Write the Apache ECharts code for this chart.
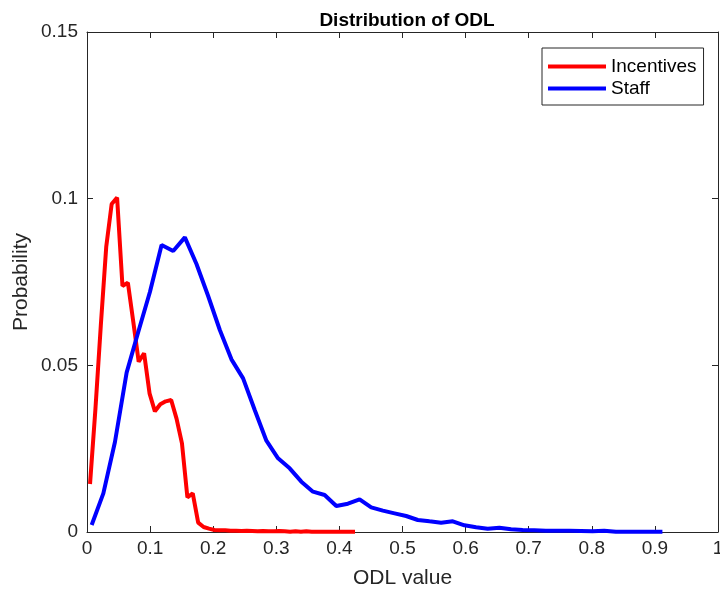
<!DOCTYPE html>
<html>
<head>
<meta charset="utf-8">
<title>Distribution of ODL</title>
<script src="https://cdn.jsdelivr.net/npm/echarts@6/dist/echarts.min.js"></script>
<style>
  html, body { margin: 0; padding: 0; background: #fff; }
  #chart { width: 720px; height: 590px; }
</style>
</head>
<body>
<div id="chart"></div>
<script>
// ---------------------------------------------------------------------------
// Data
// ---------------------------------------------------------------------------
const xTicks = [0, 0.1, 0.2, 0.3, 0.4, 0.5, 0.6, 0.7, 0.8, 0.9, 1];
const yTicks = [0, 0.05, 0.1, 0.15];

const incentivesX = [
  0.0048, 0.0134, 0.0219, 0.0305, 0.0391, 0.0477, 0.0562, 0.0648, 0.0734, 0.0819,
  0.0905, 0.0991, 0.1076, 0.1162, 0.1248, 0.1334, 0.1419, 0.1505, 0.1591, 0.1676,
  0.1762, 0.1848, 0.1933, 0.2019, 0.2105, 0.2191, 0.2276, 0.2362, 0.2448, 0.2533,
  0.2619, 0.2705, 0.2790, 0.2876, 0.2962, 0.3048, 0.3133, 0.3219, 0.3305, 0.3390,
  0.3476, 0.3562, 0.3647, 0.3733, 0.3819, 0.3905, 0.3990, 0.4076, 0.4162, 0.4247
];
const incentivesY = [
  0.0144, 0.0370, 0.0620, 0.0856, 0.0984, 0.1003, 0.0738, 0.0748, 0.0630, 0.0511,
  0.0536, 0.0416, 0.0362, 0.0383, 0.0392, 0.0396, 0.0340, 0.0266, 0.0104, 0.0116,
  0.0028, 0.0015, 0.0010, 0.0006, 0.0005, 0.0005, 0.0004, 0.0004, 0.0003, 0.0004,
  0.0003, 0.0002, 0.0003, 0.0002, 0.0002, 0.0003, 0.0002, 0.0001, 0.0002, 0.0001,
  0.0002, 0.0001, 0.0001, 0.0001, 0.0001, 0.0001, 0.0001, 0.0001, 0.0001, 0.0001
];

const staffX = [
  0.0074, 0.0259, 0.0443, 0.0628, 0.0812, 0.0997, 0.1182, 0.1366, 0.1551, 0.1735,
  0.1920, 0.2105, 0.2289, 0.2474, 0.2658, 0.2843, 0.3028, 0.3212, 0.3397, 0.3581,
  0.3766, 0.3951, 0.4135, 0.4320, 0.4504, 0.4689, 0.4874, 0.5058, 0.5243, 0.5427,
  0.5612, 0.5797, 0.5981, 0.6166, 0.6350, 0.6535, 0.6720, 0.6904, 0.7089, 0.7273,
  0.7458, 0.7643, 0.7827, 0.8012, 0.8196, 0.8381, 0.8566, 0.8750, 0.8935, 0.9119
];
const staffY = [
  0.0021, 0.0116, 0.0270, 0.0478, 0.0600, 0.0720, 0.0861, 0.0843, 0.0884, 0.0804,
  0.0708, 0.0606, 0.0518, 0.0461, 0.0366, 0.0274, 0.0221, 0.0191, 0.0151, 0.0121,
  0.0111, 0.0078, 0.0085, 0.0098, 0.0074, 0.0064, 0.0056, 0.0048, 0.0036, 0.0032,
  0.0028, 0.0032, 0.0020, 0.0014, 0.0010, 0.0013, 0.0008, 0.0006, 0.0005, 0.0004,
  0.0004, 0.0004, 0.0003, 0.0002, 0.0004, 0.0001, 0.0001, 0.0001, 0.0001, 0.0001
];

// ---------------------------------------------------------------------------
// Chart
// ---------------------------------------------------------------------------
const chart = echarts.init(document.getElementById("chart"), null, { renderer: "canvas" });

const FONT = "Liberation Sans, Arial, Helvetica, sans-serif";
const AXIS_COLOR = "#262626";

const xMin = xTicks[0], xMax = xTicks[xTicks.length - 1], xStep = xTicks[1] - xTicks[0];
const yMin = yTicks[0], yMax = yTicks[yTicks.length - 1], yStep = yTicks[1] - yTicks[0];

// shared look of all four box edges: thin dark line, ticks pointing inward
function axisBase() {
  return {
    axisLine: { show: true, onZero: false, lineStyle: { color: AXIS_COLOR, width: 1 } },
    axisTick: { show: true, inside: true, length: 6, lineStyle: { color: AXIS_COLOR } },
    splitLine: { show: false },
  };
}

const option = {
  backgroundColor: "#fff",
  animation: false,
  textStyle: { fontFamily: FONT },
  title: {
    text: "Distribution of ODL",
    left: 402,
    top: 6,
    textAlign: "center",
    textStyle: { fontSize: 19, fontWeight: "bold", color: "#000", fontFamily: FONT },
  },
  legend: {
    orient: "vertical",
    left: 542,
    top: 48,
    data: ["Incentives", "Staff"],
    icon: "rect",
    itemWidth: 58,
    itemHeight: 4,
    itemGap: 3,
    padding: [9, 7, 7, 6],
    borderColor: AXIS_COLOR,
    borderWidth: 1,
    backgroundColor: "#fff",
    textStyle: { fontSize: 19, color: "#000", fontFamily: FONT },
  },
  grid: { left: 87, right: 2, top: 32, bottom: 58, containLabel: false, outerBoundsMode: "none" },
  xAxis: [
    Object.assign(axisBase(), {
      type: "value",
      min: xMin, max: xMax, interval: xStep,
      name: "ODL value",
      nameLocation: "middle",
      nameGap: 36,
      nameMoveOverlap: false,
      nameTextStyle: { fontSize: 21, color: AXIS_COLOR, fontFamily: FONT },
      axisLabel: { fontSize: 19, color: AXIS_COLOR, margin: 7, fontFamily: FONT },
    }),
    Object.assign(axisBase(), {
      type: "value", position: "top",
      min: xMin, max: xMax, interval: xStep,
      axisLabel: { show: false },
    }),
  ],
  yAxis: [
    Object.assign(axisBase(), {
      type: "value",
      min: yMin, max: yMax, interval: yStep,
      name: "Probability",
      nameLocation: "middle",
      nameGap: 55,
      nameMoveOverlap: false,
      nameTextStyle: { fontSize: 21, color: AXIS_COLOR, fontFamily: FONT },
      axisLabel: { fontSize: 19, color: AXIS_COLOR, margin: 9, fontFamily: FONT },
    }),
    Object.assign(axisBase(), {
      type: "value", position: "right",
      min: yMin, max: yMax, interval: yStep,
      axisLabel: { show: false },
    }),
  ],
  series: [
    {
      name: "Incentives",
      type: "line",
      xAxisIndex: 0, yAxisIndex: 0,
      data: incentivesX.map((x, i) => [x, incentivesY[i]]),
      showSymbol: false,
      itemStyle: { color: "#ff0000" },
      lineStyle: { color: "#ff0000", width: 4 },
    },
    {
      name: "Staff",
      type: "line",
      xAxisIndex: 0, yAxisIndex: 0,
      data: staffX.map((x, i) => [x, staffY[i]]),
      showSymbol: false,
      itemStyle: { color: "#0000ff" },
      lineStyle: { color: "#0000ff", width: 4 },
    },
  ],
};

chart.setOption(option);
</script>
</body>
</html>
